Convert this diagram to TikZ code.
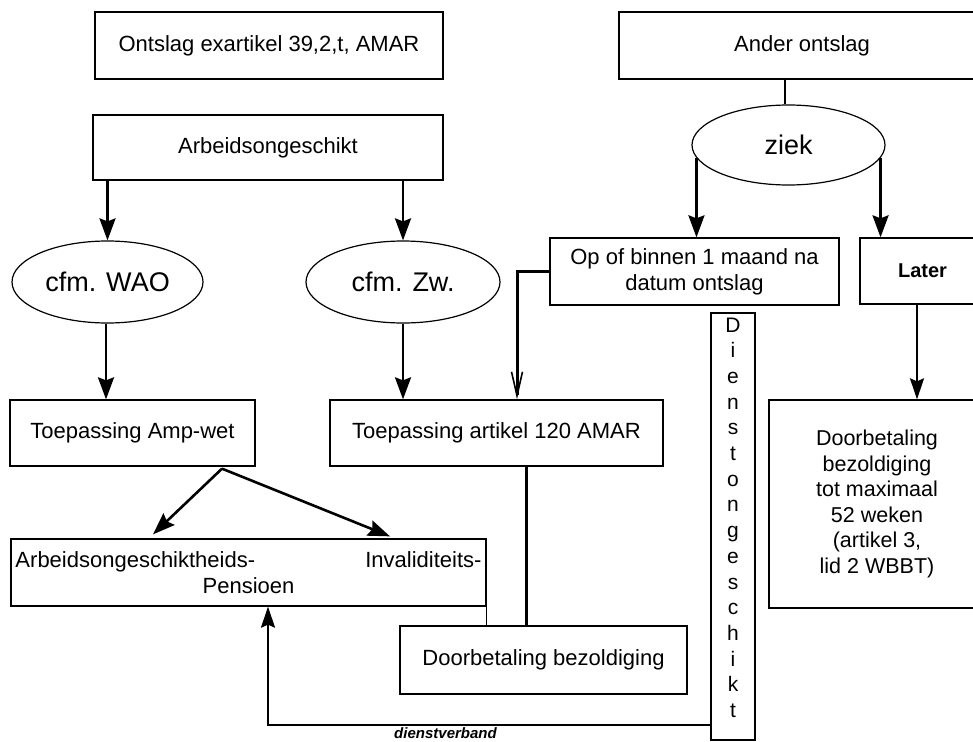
\documentclass[tikz,border=0pt]{standalone}
\usepackage{fontspec}
\setmainfont{Liberation Sans}
\usetikzlibrary{shapes.geometric,arrows.meta,calc}
\tikzset{
  box/.style={draw, line width=1.3pt, inner sep=0pt, align=center, font=\fontsize{22}{26}\selectfont},
  ell/.style={draw, ellipse, line width=1.2pt, inner sep=0pt, font=\fontsize{27}{32}\selectfont},
  arr/.style={line width=2.6pt, -{Stealth[length=22pt,width=16pt,inset=3pt]}},
  arrthin/.style={line width=2pt, -{Stealth[length=21pt,width=14pt,inset=3pt]}},
  plain/.style={line width=1.3pt},
  thick3/.style={line width=3pt},
  openarr/.style={line width=3pt, -{Straight Barb[length=24pt,width=11pt,line width=1.6pt]}}
}
\begin{document}
\begin{tikzpicture}[x=1pt,y=-1pt]
\useasboundingbox (0,0) rectangle (973,741);
\clip (0,0) rectangle (973,741);
% left column
\node[box, minimum width=348pt, minimum height=67pt] (ontslag) at (269,45.5) {Ontslag exartikel 39,2,t, AMAR};
\node[box, minimum width=350pt, minimum height=65pt] (arbo) at (268,147.5) {Arbeidsongeschikt};
\node[ell, minimum width=191pt, minimum height=82pt] (wao) at (107.5,282) {cfm. WAO};
\node[ell, minimum width=194pt, minimum height=82pt] (zw) at (403,282) {cfm. Zw.};
\node[box, minimum width=245pt, minimum height=66pt] (amp) at (132.5,433) {Toepassing Amp-wet};
\node[box, minimum width=333pt, minimum height=66pt] (art) at (496.5,433) {Toepassing artikel 120 AMAR};
\node[box, minimum width=475pt, minimum height=67pt] (arb) at (248.5,572.5)
  {\makebox[466pt]{Arbeidsongeschiktheids-\hfill Invaliditeits-}\\Pensioen};
\node[box, minimum width=287pt, minimum height=68pt] (doorb) at (543.5,660) {Doorbetaling bezoldiging};
% right column
\node[box, minimum width=366pt, minimum height=67pt] (ander) at (802,45.5) {Ander ontslag};
\node[ell, minimum width=193pt, minimum height=80pt] (ziek) at (788.5,145) {ziek};
\node[box, minimum width=289pt, minimum height=67pt] (op) at (694.5,271.5) {Op of binnen 1 maand na\\datum ontslag};
\node[box, minimum width=125pt, minimum height=66pt, font=\fontsize{20}{24}\selectfont\bfseries] (later) at (922.5,271) {Later};
\node[box, minimum width=216pt, minimum height=208pt, font=\fontsize{21.5}{25.5}\selectfont] (doorr) at (877,504)
  {Doorbetaling\\bezoldiging\\tot maximaal\\52 weken\\(artikel 3,\\lid 2 WBBT)};
\node[box, minimum width=44pt, minimum height=427pt] (dienst) at (733,526.5) {};
\node[anchor=north, inner sep=0pt, align=center, font=\fontsize{21}{25.7}\selectfont] (dtext) at ($(dienst.north)+(0,5)$)
  {D\\i\\e\\n\\s\\t\\o\\n\\g\\e\\s\\c\\h\\i\\k\\t};
\node[inner sep=0pt, font=\fontsize{15}{18}\selectfont\bfseries\itshape] (dvlabel) at (445.5,733) {dienstverband};
% connectors
\draw[arr] (arbo.south -| wao.north) -- (wao.north);
\draw[arr] (arbo.south -| zw.north) -- (zw.north);
\coordinate (waob) at ($(wao.south)+(-1.5,0)$);
\draw[arr] (waob) -- (waob |- amp.north);
\draw[arr] (zw.south) -- (zw.south |- art.north);
\coordinate (ampo) at ($(amp.south)+(89.5,2)$);
\draw[arr] (ampo) -- ($(arb.north)+(-95.5,-4)$);
\draw[arr] (ampo) -- ($(arb.north)+(141.5,-2)$);
\coordinate (arto) at ($(art.south)+(29.5,0)$);
\draw[thick3] (arto) -- (arto |- doorb.north);
\draw[plain] (arb.south east) -- (arb.south east |- doorb.north);
\coordinate (arti) at ($(art.north)+(20.5,0)$);
\draw[openarr] (op.west) -| (arti);
\coordinate (andero) at ($(ander.south)+(-17,0)$);
\draw[line width=1.2pt] (andero) -- (andero |- ziek.north);
\draw[arr] (ziek.188) -- (ziek.188 |- op.north);
\draw[arr] (ziek.352) -- (ziek.352 |- later.north);
\coordinate (lato) at ($(later.south)+(-5.5,0)$);
\draw[arrthin] (lato) -- (lato |- doorr.north);
\coordinate (dv) at ($(dienst.south west)+(0,-16)$);
\coordinate (arbi) at ($(arb.south)+(19.5,0)$);
\draw[arrthin] (dv) -| (arbi);
\end{tikzpicture}
\end{document}
